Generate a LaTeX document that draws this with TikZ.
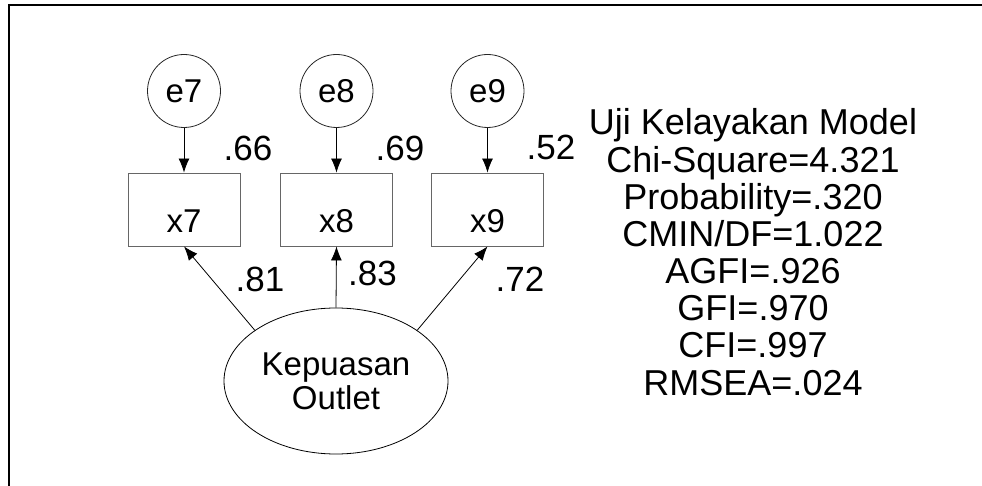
\documentclass[tikz,border=0pt]{standalone}
\usepackage{fontspec}
\setmainfont{Liberation Sans}
\usetikzlibrary{arrows.meta,shapes.geometric}
\begin{document}
\begin{tikzpicture}[x=1pt,y=-1pt,
  obs/.style={draw=black!60,line width=0.9pt,rectangle,minimum width=112pt,minimum height=73pt,inner sep=0pt,text height=59.5pt,text depth=13.5pt,font=\fontsize{33}{36}\selectfont},
  err/.style={draw=black!85,line width=0.8pt,circle,minimum size=73pt,inner sep=0pt,font=\fontsize{33}{36}\selectfont},
  latent/.style={draw=black,line width=0.8pt,ellipse,minimum width=224pt,minimum height=146pt,inner sep=0pt,align=center,font=\fontsize{33}{34}\selectfont},
  coef/.style={anchor=base,inner sep=0pt,font=\fontsize{35}{36}\selectfont},
  fitline/.style={anchor=base,inner sep=0pt,font=\fontsize{36}{37}\selectfont},
  lnk/.style={draw=black,line width=0.8pt,-{Latex[length=14pt,width=11pt]}}
]
\useasboundingbox (0,0) rectangle (982,486);
\draw[line width=2.5pt] (982,5) -- (9,5) -- (9,486);

% error terms
\node[err] (e7) at (184,91) {e7};
\node[err] (e8) at (336.5,91) {e8};
\node[err] (e9) at (487.5,91) {e9};

% observed variables
\node[obs] (x7) at (184,209.5) {x7};
\node[obs] (x8) at (336.5,209.5) {x8};
\node[obs] (x9) at (487.5,209.5) {x9};

% latent
\node[latent] (lat) at (336,381) {Kepuasan\\Outlet};

% arrows
\draw[lnk] (e7) -- (x7);
\draw[lnk] (e8) -- (x8);
\draw[lnk] (e9) -- (x9);
\draw[lnk] (lat.148) -- (x7.south);
\draw[lnk] (lat.north) -- (x8.south);
\draw[lnk] (lat.32) -- (x9.south);

% coefficients
\node[coef] (r7) at (248,161) {.66};
\node[coef] (r8) at (400,161) {.69};
\node[coef] (r9) at (551,160) {.52};
\node[coef] (l7) at (260,291) {.81};
\node[coef] (l8) at (372.5,285) {.83};
\node[coef] (l9) at (520,291) {.72};

% fit statistics
\node[fitline] (s1) at (753,135) {Uji Kelayakan Model};
\node[fitline] (s2) at (753,172.1) {Chi-Square=4.321};
\node[fitline] (s3) at (753,209.3) {Probability=.320};
\node[fitline] (s4) at (753,246.4) {CMIN/DF=1.022};
\node[fitline] (s5) at (753,283.6) {AGFI=.926};
\node[fitline] (s6) at (753,320.7) {GFI=.970};
\node[fitline] (s7) at (753,357.9) {CFI=.997};
\node[fitline] (s8) at (753,395) {RMSEA=.024};
\end{tikzpicture}
\end{document}
